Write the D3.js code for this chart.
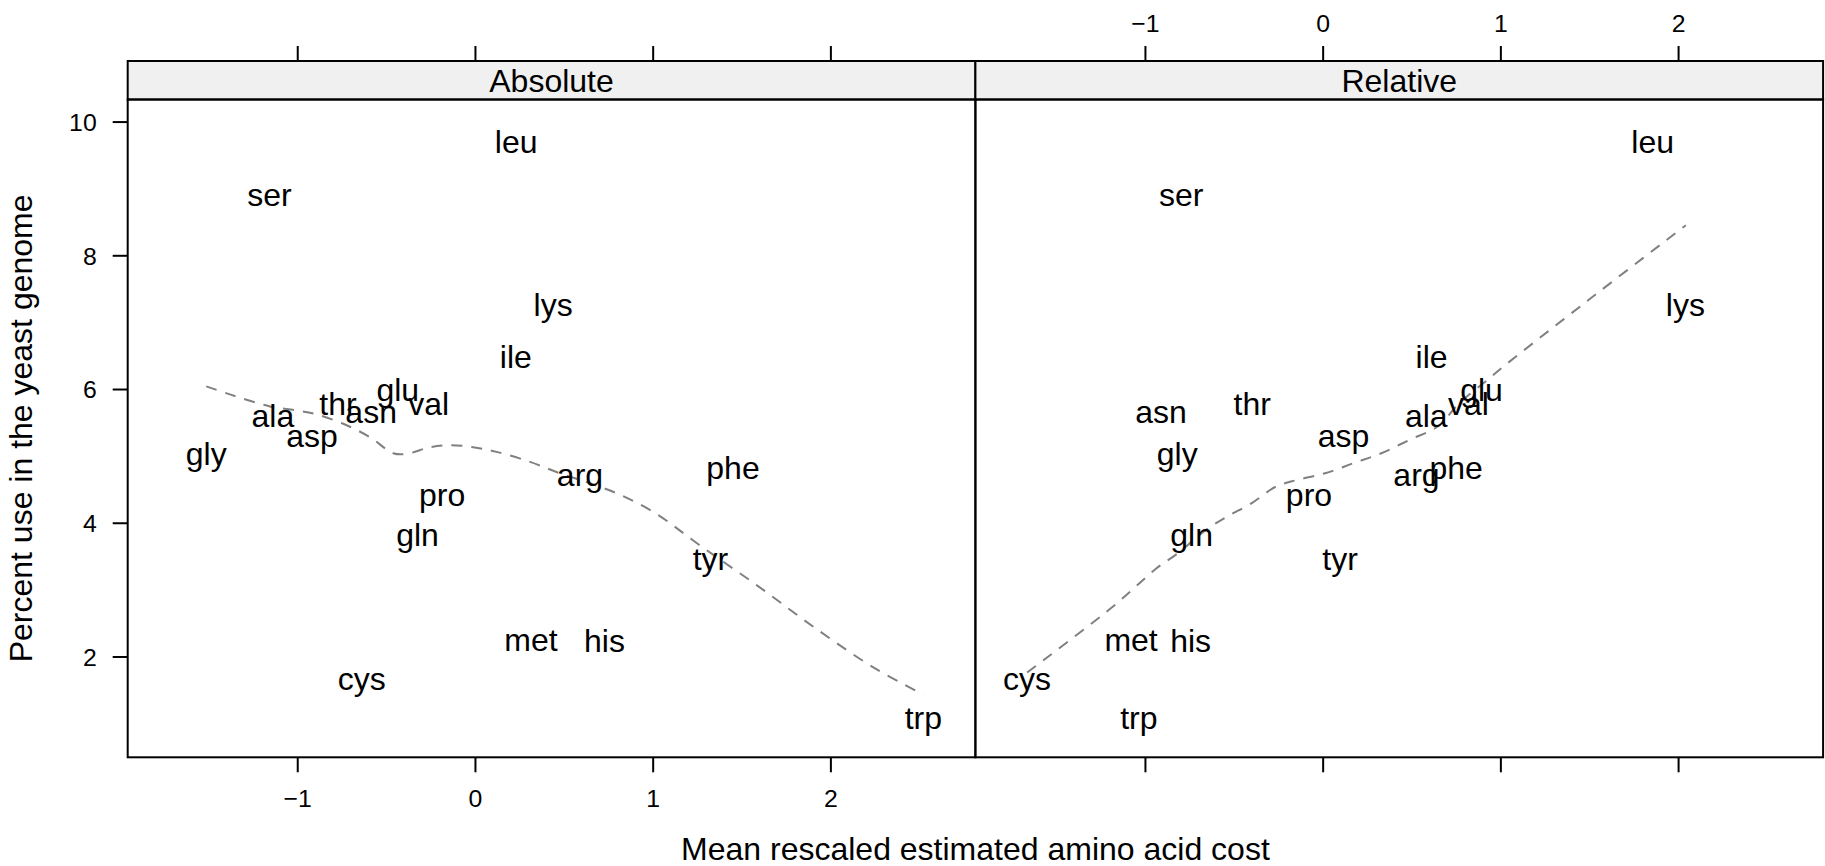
<!DOCTYPE html>
<html>
<head>
<meta charset="utf-8">
<script src="https://cdn.jsdelivr.net/npm/d3@7"></script>
<style>
  body { margin: 0; background: #fff; }
  svg { display: block; }
  text { font-family: "Liberation Sans", Arial, Helvetica, sans-serif; fill: #000; }
</style>
</head>
<body>
<svg id="chart" width="1825" height="866"></svg>
<script>
// Amino acid usage in the yeast genome against estimated synthesis cost
const aminoAcids = ["ala", "arg", "asn", "asp", "cys", "gln", "glu", "gly", "his", "ile",
                    "leu", "lys", "met", "phe", "pro", "ser", "thr", "trp", "tyr", "val"];
const percentUse = [5.60, 4.63, 5.61, 5.21, 1.57, 3.77, 5.95, 4.98, 2.24, 6.48,
                    9.70, 7.22, 2.26, 4.78, 4.32, 8.86, 5.78, 1.04, 3.42, 5.79];
const costAbsolute = [-1.137, 0.591, -0.584, -0.917, -0.637, -0.323, -0.434, -1.512, 0.729, 0.230,
                      0.232, 0.440, 0.315, 1.452, -0.185, -1.156, -0.771, 2.523, 1.325, -0.260];
const costRelative = [0.583, 0.528, -0.910, 0.118, -1.663, -0.737, 0.894, -0.818, -0.743, 0.613,
                      1.857, 2.041, -1.078, 0.751, -0.077, -0.796, -0.396, -1.034, 0.098, 0.820];

// loess smooth of each panel
const loessAbsX = [-1.512, -1.379, -1.154, -1.003, -0.891, -0.741, -0.591, -0.460, -0.384, -0.253,
                   -0.141, -0.010, 0.122, 0.310, 0.478, 0.647, 0.816, 1.017, 1.261, 1.589,
                   1.917, 2.246, 2.523];
const loessAbsY = [6.04, 5.92, 5.74, 5.68, 5.62, 5.48, 5.28, 5.04, 5.03, 5.13,
                   5.16, 5.13, 5.06, 4.91, 4.74, 4.59, 4.42, 4.14, 3.67, 3.06,
                   2.42, 1.83, 1.43];
const loessRelX = [-1.663, -1.192, -1.054, -0.935, -0.817, -0.658, -0.539, -0.401, -0.263, -0.144,
                   0.014, 0.172, 0.330, 0.489, 0.647, 0.766, 0.924, 1.033, 1.471, 2.044];
const loessRelY = [1.76, 2.72, 3.04, 3.32, 3.54, 3.89, 4.09, 4.29, 4.54, 4.64,
                   4.74, 4.89, 5.04, 5.24, 5.44, 5.78, 6.13, 6.37, 7.28, 8.45];

const panelNames = ["Absolute", "Relative"];
const xTicks = [-1, 0, 1, 2];
const yTicks = [2, 4, 6, 8, 10];
const xTitle = "Mean rescaled estimated amino acid cost";
const yTitle = "Percent use in the yeast genome";

// layout
const fontSize = 32;
const tickFont = 24.8;
const panelLeft = 127.7, panelW = 847.7;
const panelTop = 99.5, panelBottom = 757.3;
const stripTop = 61;
const tickLen = 15;

const svg = d3.select("#chart");

const x = d3.scaleLinear().domain([-1.954, 2.816]).range([0, panelW]);
const y = d3.scaleLinear().domain([0.492, 10.33]).range([panelBottom, panelTop]);

// vertical centre of a string from its ascenders / descenders
function centreShift(s, size) {
  const asc = /[bdfhiklt]/.test(s) ? 0.72 : 0.52;
  const desc = /[gjpqy]/.test(s) ? 0.21 : 0;
  return (asc - desc) / 2 * size;
}

const fmt = d => d < 0 ? "\u2212" + Math.abs(d) : String(d);

const panels = [
  { name: panelNames[0], xs: costAbsolute, lx: loessAbsX, ly: loessAbsY, bottomLabels: true },
  { name: panelNames[1], xs: costRelative, lx: loessRelX, ly: loessRelY, bottomLabels: false }
];

const line = d3.line().x(d => x(d[0])).y(d => y(d[1])).curve(d3.curveCatmullRom.alpha(0.5));

panels.forEach((p, i) => {
  const g = svg.append("g").attr("transform", `translate(${panelLeft + i * panelW},0)`);

  // strip
  g.append("rect")
    .attr("x", 0).attr("y", stripTop)
    .attr("width", panelW).attr("height", panelTop - stripTop)
    .attr("fill", "#f0f0f0").attr("stroke", "#000").attr("stroke-width", 2);
  g.append("text")
    .attr("x", panelW / 2)
    .attr("y", (stripTop + panelTop) / 2 + 0.36 * fontSize)
    .attr("text-anchor", "middle")
    .style("font-size", fontSize + "px")
    .text(p.name);

  // loess line
  g.append("path")
    .datum(p.lx.map((v, k) => [v, p.ly[k]]))
    .attr("d", line)
    .attr("fill", "none")
    .attr("stroke", "#808080")
    .attr("stroke-width", 2)
    .attr("stroke-dasharray", "11,9");

  // labels
  g.selectAll("text.aa")
    .data(aminoAcids)
    .join("text")
    .attr("class", "aa")
    .attr("x", (d, k) => x(p.xs[k]))
    .attr("y", (d, k) => y(percentUse[k]) + centreShift(d, fontSize))
    .attr("text-anchor", "middle")
    .style("font-size", fontSize + "px")
    .text(d => d);

  // panel border
  g.append("rect")
    .attr("x", 0).attr("y", panelTop)
    .attr("width", panelW).attr("height", panelBottom - panelTop)
    .attr("fill", "none").attr("stroke", "#000").attr("stroke-width", 2);

  // x axes: bottom labelled on the first panel, top labelled on the second
  const bottom = g.append("g").attr("transform", `translate(0,${panelBottom})`)
    .call(d3.axisBottom(x).tickValues(xTicks).tickSize(tickLen).tickPadding(17.5)
      .tickFormat(p.bottomLabels ? fmt : ""));
  const top = g.append("g").attr("transform", `translate(0,${stripTop})`)
    .call(d3.axisTop(x).tickValues(xTicks).tickSize(tickLen).tickPadding(14.3)
      .tickFormat(p.bottomLabels ? "" : fmt));
  [bottom, top].forEach(a => {
    a.select(".domain").remove();
    a.selectAll(".tick line").attr("stroke", "#000").attr("stroke-width", 2);
    a.selectAll(".tick text").style("font-size", tickFont + "px")
      .style("font-family", '"Liberation Sans", Arial, Helvetica, sans-serif').attr("fill", "#000");
  });

  if (i === 0) {
    const left = g.append("g")
      .call(d3.axisLeft(y).tickValues(yTicks).tickSize(tickLen).tickPadding(16));
    left.select(".domain").remove();
    left.selectAll(".tick line").attr("stroke", "#000").attr("stroke-width", 2);
    left.selectAll(".tick text").style("font-size", tickFont + "px")
      .style("font-family", '"Liberation Sans", Arial, Helvetica, sans-serif')
      .attr("fill", "#000").attr("dy", "0.36em");
  }
});

// axis titles
svg.append("text")
  .attr("x", panelLeft + panelW)
  .attr("y", 860)
  .attr("text-anchor", "middle")
  .style("font-size", fontSize + "px")
  .text(xTitle);

svg.append("text")
  .attr("transform", `translate(32,${(panelTop + panelBottom) / 2}) rotate(-90)`)
  .attr("text-anchor", "middle")
  .style("font-size", fontSize + "px")
  .text(yTitle);
</script>
</body>
</html>
